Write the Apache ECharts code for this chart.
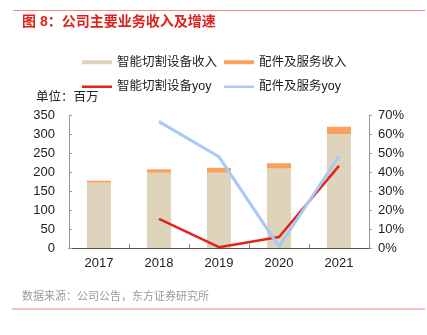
<!DOCTYPE html>
<html><head><meta charset="utf-8">
<script src="https://cdn.jsdelivr.net/npm/echarts@6/dist/echarts.min.js"></script>
<style>html,body{margin:0;padding:0;background:#fff;}#c{width:427px;height:335px;}</style>
</head><body><div id="c"></div>
<script>
const categories = ['2017','2018','2019','2020','2021'];
const equipRevenue = [172, 198, 198, 209, 300];
const serviceRevenue = [5, 9, 13, 14, 19];
const equipYoy = [null, 15.3, 0.4, 5.8, 43.2];
const serviceYoy = [null, 66.5, 48, 0.7, 48.4];
const leftTicks = [0, 350, 50];
const rightTicks = [0, 70, 10];

const FONT = '"Liberation Sans", "Noto Sans CJK SC", sans-serif';
const chart = echarts.init(document.getElementById('c'), null, {renderer: 'canvas'});
const legText = {fontSize: 12.5, color: '#222', fontFamily: FONT};
const legBase = {padding: 0, itemWidth: 30, icon: 'rect', textStyle: legText, itemGap: 5};
chart.setOption({
  animation: false,
  backgroundColor: '#fff',
  title: [
    {text: '图 8：公司主要业务收入及增速', left: 22, top: 15, padding: 0,
     textStyle: {fontSize: 14, fontWeight: 'bold', color: '#E0201B', fontFamily: FONT}},
    {text: '单位：百万', left: 36, top: 91, padding: 0,
     textStyle: {fontSize: 12.5, fontWeight: 'normal', color: '#222', fontFamily: FONT}},
    {text: '数据来源：公司公告，东方证券研究所', left: 22, top: 291, padding: 0,
     textStyle: {fontSize: 11, fontWeight: 'normal', color: '#9a9a9a', fontFamily: FONT}}
  ],
  graphic: [
    {type: 'line', shape: {x1: 13, y1: 10.5, x2: 425, y2: 10.5}, style: {stroke: '#F28B82', lineWidth: 1}},
    {type: 'line', shape: {x1: 12, y1: 309, x2: 425, y2: 309}, style: {stroke: '#E8877A', lineWidth: 1}}
  ],
  legend: [
    Object.assign({data: ['智能切割设备收入'], left: 82, top: 56, itemHeight: 4}, legBase),
    Object.assign({data: ['配件及服务收入'], left: 224, top: 56, itemHeight: 4}, legBase),
    Object.assign({data: ['智能切割设备yoy'], left: 82, top: 80.5, itemHeight: 2.5}, legBase),
    Object.assign({data: ['配件及服务yoy'], left: 224, top: 80.5, itemHeight: 2.5}, legBase)
  ],
  grid: {left: 69, right: 58, top: 115, bottom: 87},
  xAxis: {
    type: 'category', data: categories,
    axisLine: {lineStyle: {color: '#555', width: 1}},
    axisTick: {show: true, inside: true, length: 4, lineStyle: {color: '#888'}},
    axisLabel: {fontSize: 13, color: '#222', fontFamily: FONT, margin: 9}
  },
  yAxis: [
    {type: 'value', min: leftTicks[0], max: leftTicks[1], interval: leftTicks[2],
     axisLine: {show: true, lineStyle: {color: '#999'}},
     axisTick: {show: true, inside: true, length: 3, lineStyle: {color: '#999'}},
     splitLine: {show: false},
     axisLabel: {fontSize: 13, color: '#222', fontFamily: FONT, margin: 14}},
    {type: 'value', min: rightTicks[0], max: rightTicks[1], interval: rightTicks[2],
     axisLine: {show: true, lineStyle: {color: '#999'}},
     axisTick: {show: true, inside: false, length: 3, lineStyle: {color: '#999'}},
     splitLine: {show: false},
     axisLabel: {fontSize: 13, color: '#222', fontFamily: FONT, margin: 9, formatter: '{value}%'}}
  ],
  series: [
    {name: '智能切割设备收入', type: 'bar', stack: 'rev', data: equipRevenue, barWidth: 24,
     itemStyle: {color: '#DED4BC'}},
    {name: '配件及服务收入', type: 'bar', stack: 'rev', data: serviceRevenue, barWidth: 24,
     itemStyle: {color: '#F9A05C'}},
    {name: '智能切割设备yoy', type: 'line', yAxisIndex: 1, data: equipYoy, showSymbol: false, symbol: 'none',
     lineStyle: {color: '#E3231C', width: 2.5}, itemStyle: {color: '#E3231C'}},
    {name: '配件及服务yoy', type: 'line', yAxisIndex: 1, data: serviceYoy, showSymbol: false, symbol: 'none',
     lineStyle: {color: '#A8C9F6', width: 3}, itemStyle: {color: '#A8C9F6'}}
  ]
});
</script></body></html>
